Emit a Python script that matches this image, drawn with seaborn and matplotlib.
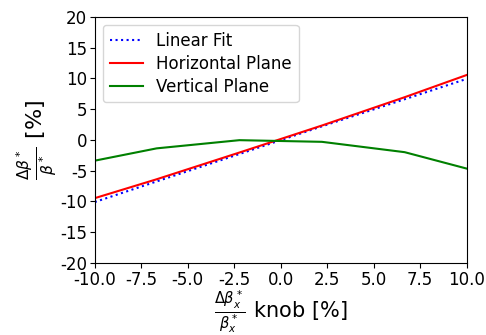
import matplotlib
matplotlib.use("Agg")
import matplotlib.pyplot as plt
import seaborn as sns
import numpy as np

knob = [-10.0, -6.67, -2.22, 2.22, 6.67, 10.0]
linear_fit = [-10.1, -6.75, -2.3, 2.2, 6.6, 9.9]
horizontal = [-9.47, -6.4, -2.06, 2.33, 6.93, 10.53]
vertical = [-3.38, -1.38, -0.05, -0.32, -2.0, -4.66]

plt.rcParams["axes.unicode_minus"] = False

fig, ax = plt.subplots(figsize=(4.86, 3.35), dpi=100)
sns.lineplot(x=knob, y=linear_fit, ax=ax, color="blue", linestyle=":", label="Linear Fit")
sns.lineplot(x=knob, y=horizontal, ax=ax, color="red", label="Horizontal Plane")
sns.lineplot(x=knob, y=vertical, ax=ax, color="green", label="Vertical Plane")

ax.set_xlim(-10, 10)
ax.set_ylim(-20, 20)
ax.set_xticks(np.arange(-10, 10.1, 2.5))
ax.set_yticks(np.arange(-20, 21, 5))
ax.tick_params(labelsize=12, pad=2)
ax.set_xlabel(r"$\frac{\Delta\beta_x^*}{\beta_x^*}$ knob [%]", fontsize=15, labelpad=0)
ax.set_ylabel(r"$\frac{\Delta\beta^*}{\beta^*}$ [%]", fontsize=16, labelpad=1)
ax.legend(loc="upper left", fontsize=12, labelspacing=0.3, handlelength=2.0)
fig.subplots_adjust(left=0.195, right=0.96, top=0.95, bottom=0.215)
fig.savefig("out.png", dpi=100)
